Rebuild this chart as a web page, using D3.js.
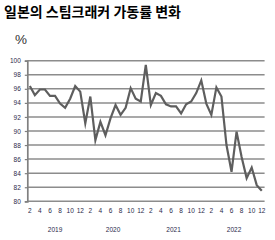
<!DOCTYPE html>
<html><head><meta charset="utf-8">
<script src="https://cdn.jsdelivr.net/npm/d3@7"></script>
<style>
html,body{margin:0;padding:0;background:#fff;}
svg{display:block;}
</style></head>
<body>
<script>
// Categories: Feb 2019 .. Dec 2022
const categories = ["2019-02","2019-03","2019-04","2019-05","2019-06","2019-07","2019-08","2019-09","2019-10","2019-11","2019-12",
"2020-01","2020-02","2020-03","2020-04","2020-05","2020-06","2020-07","2020-08","2020-09","2020-10","2020-11","2020-12",
"2021-01","2021-02","2021-03","2021-04","2021-05","2021-06","2021-07","2021-08","2021-09","2021-10","2021-11","2021-12",
"2022-01","2022-02","2022-03","2022-04","2022-05","2022-06","2022-07","2022-08","2022-09","2022-10","2022-11","2022-12"];
const utilization = [96.4,95.1,95.9,95.9,95.0,95.0,93.9,93.3,94.6,96.4,95.6,
91.1,94.9,88.7,91.3,89.4,91.8,93.7,92.3,93.3,96.1,94.6,94.2,
99.4,93.7,95.4,95.0,93.8,93.5,93.5,92.5,93.8,94.2,95.4,97.2,
93.9,92.3,96.2,94.9,88.0,84.2,89.9,86.3,83.3,84.8,82.3,81.5];
const yTicks = [80,82,84,86,88,90,92,94,96,98,100];
const years = ["2019","2020","2021","2022"];
const title = "일본의 스팀크래커 가동률 변화";
const unit = "%";

const W = 275, H = 240;
const svg = d3.select("body").append("svg").attr("width", W).attr("height", H);

const x = d3.scaleBand().domain(categories).range([27.3, 264.3]).padding(0);
const y = d3.scaleLinear().domain([80, 100]).range([201.3, 60.7]);
const cx = c => x(c) + x.bandwidth() / 2;

// title
svg.append("text").attr("x", 4).attr("y", 16.5)
  .attr("font-family", "'Noto Sans CJK KR', sans-serif").attr("font-weight", "bold")
  .attr("font-size", 14).attr("fill", "#000").text(title);
svg.append("text").attr("x", 15).attr("y", 43.5)
  .attr("font-family", "'Liberation Sans', Arial, sans-serif")
  .attr("font-size", 13.5).attr("fill", "#333").text(unit);

// gridlines
svg.append("g").selectAll("line").data(yTicks).join("line")
  .attr("x1", 27.3).attr("x2", 264.6)
  .attr("y1", d => y(d)).attr("y2", d => y(d))
  .attr("stroke", "#8c8c8c").attr("stroke-width", 1.5);

// y axis
const yAxis = svg.append("g").attr("transform", "translate(27.3,0)")
  .call(d3.axisLeft(y).tickValues(yTicks).tickSize(2.5).tickPadding(4));
yAxis.select(".domain").attr("stroke", "#808080").attr("stroke-width", 1.7);
yAxis.selectAll(".tick line").attr("stroke", "#808080").attr("stroke-width", 1.2);
yAxis.selectAll("text").attr("font-family", "'Liberation Sans', Arial, sans-serif")
  .attr("font-size", 6.5).attr("fill", "#2a2a4a");

// x month labels (every second category)
const xAxis = svg.append("g").attr("transform", "translate(0,201.3)")
  .call(d3.axisBottom(x)
    .tickValues(categories.filter((c, i) => i % 2 === 0))
    .tickFormat(c => String(+c.slice(5)))
    .tickSize(0).tickPadding(7));
xAxis.select(".domain").remove();
xAxis.selectAll("text").attr("font-family", "'Liberation Sans', Arial, sans-serif")
  .attr("font-size", 6.5).attr("fill", "#2a2a4a");

// year labels
svg.append("g").selectAll("text").data(years).join("text")
  .attr("x", yr => {
    const cs = categories.filter(c => c.startsWith(yr));
    return (cx(cs[0]) + cx(cs[cs.length - 1])) / 2;
  })
  .attr("y", 231.5).attr("text-anchor", "middle")
  .attr("font-family", "'Liberation Sans', Arial, sans-serif")
  .attr("font-size", 6.5).attr("fill", "#2a2a4a").text(d => d);

// line
const line = d3.line().x((d, i) => cx(categories[i])).y(d => y(d));
svg.append("path").datum(utilization)
  .attr("d", line).attr("fill", "none")
  .attr("stroke", "#5e5e5e").attr("stroke-width", 2.2)
  .attr("stroke-linejoin", "miter").attr("stroke-miterlimit", 6);
</script>
</body></html>
